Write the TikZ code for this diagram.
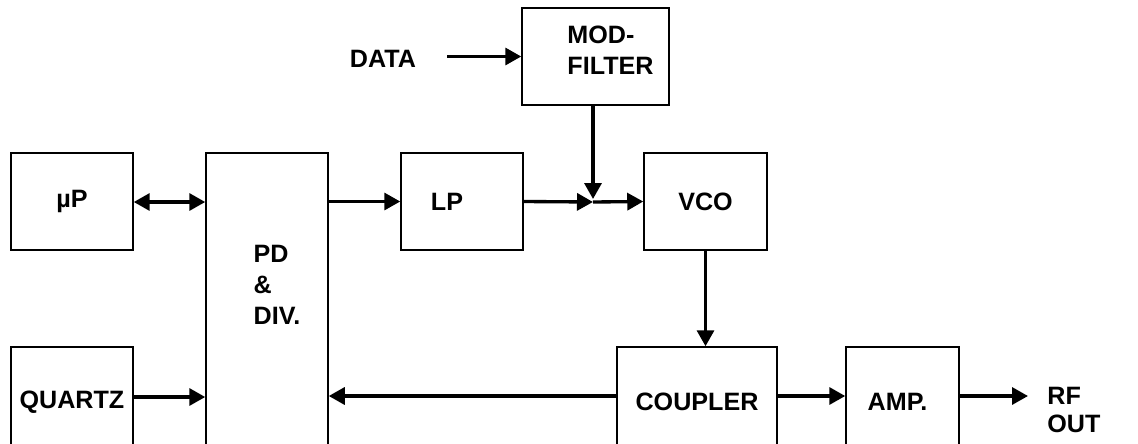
\documentclass[tikz,border=0pt]{standalone}
\usepackage{fontspec}
\setmainfont{Liberation Sans}
\usetikzlibrary{arrows.meta}

\begin{document}
\begin{tikzpicture}[x=0.02cm, y=-0.02cm,
                box/.style 2 args={rectangle, draw, line width=0.85pt, inner sep=0pt,
                minimum width=#1*0.02cm, minimum height=#2*0.02cm,
                font=\bfseries\fontsize{14.3}{17.5}\selectfont, align=left},
                lbl/.style={inner sep=0pt, align=left, font=\bfseries\fontsize{14.3}{17.7}\selectfont},
                arrow/.style={-{Triangle[length=0.32cm, width=0.34cm]}, line width=1.9pt},
                dblarrow/.style={{Triangle[length=0.32cm, width=0.34cm]}-{Triangle[length=0.32cm, width=0.34cm]}, line width=1.9pt}
            ]
        \useasboundingbox (0,0) rectangle (1138,443);
        \clip (0,0) rectangle (1138,443);

        \node[box={122}{97}]   (up)      at (72,201.5)   {\textmu P};
        \node[box={122}{317}, label={[lbl, xshift=0.2cm, yshift=0.54cm]center:PD\\\&\\DIV.}]
                               (pd)      at (267,311.5)  {};
        \node[box={122}{97}, label={[lbl, xshift=-0.3cm]center:LP}]
                               (lp)      at (462,201.5)  {};
        \node[box={123}{97}]   (vco)     at (705.5,201.5){VCO};
        \node[box={147}{97}, label={[lbl, xshift=0.3cm, yshift=0.12cm]center:MOD-\\FILTER}]
                               (mod)     at (595.5,56.5) {};
        \node[box={122}{110}]  (quartz)  at (72,402)     {QUARTZ};
        \node[box={160}{110}]  (coupler) at (697,402)    {COUPLER};
        \node[box={113}{110}, label={[lbl, xshift=-0.1cm]center:AMP.}]
                               (amp)     at (902.5,402)  {};

        \node[lbl]              (data)    at (383,59)     {DATA};
        \node[lbl, anchor=west, font=\bfseries\fontsize{14.3}{16}\selectfont]
                                (rfout)   at (1047,410)   {RF\\OUT};
        \coordinate (jn) at (593,202);

        \draw[dblarrow] (up.east |- 0,202) -- (pd.west |- 0,202);
        \draw[arrow] (quartz.east |- 0,397) -- (pd.west |- 0,397);
        \draw[arrow] (pd.east |- lp.west) -- (lp.west);
        \draw[arrow] (lp.east) -- (jn);
        \draw[arrow] (mod.south -| jn) -- ([yshift=0.06cm]jn);
        \draw[arrow] (jn) -- (vco.west);
        \draw[arrow, shorten <=0.62cm] (data.east |- mod.west) -- (mod.west);
        \draw[arrow] (vco.south) -- (vco.south |- coupler.north);
        \draw[arrow] (coupler.west |- 0,396) -- (pd.east |- 0,396);
        \draw[arrow] (coupler.east |- 0,396) -- (amp.west |- 0,396);
        \draw[arrow, shorten >=0.38cm] (amp.east |- 0,396) -- (rfout.west |- 0,396);
            \end{tikzpicture}
\end{document}
